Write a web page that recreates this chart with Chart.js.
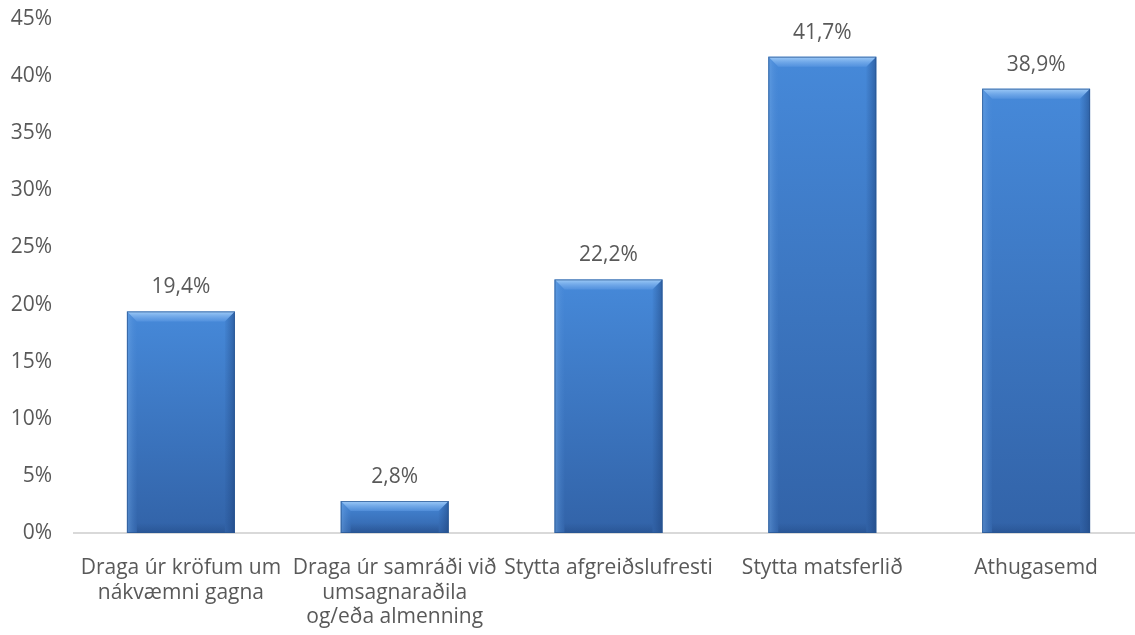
<!DOCTYPE html>
<html>
<head>
<meta charset="utf-8">
<script src="https://cdn.jsdelivr.net/npm/chart.js@4"></script>
<style>
html,body{margin:0;padding:0;background:#fff;overflow:hidden;}
#wrap{width:1143px;height:635px;position:relative;}
</style>
</head>
<body>
<div id="wrap"><canvas id="c"></canvas></div>
<script>
const categories = [
  ["Draga úr kröfum um", "nákvæmni gagna"],
  ["Draga úr samráði við", "umsagnaraðila", "og/eða almenning"],
  ["Stytta afgreiðslufresti"],
  ["Stytta matsferlið"],
  ["Athugasemd"]
];
const values = [19.4, 2.8, 22.2, 41.7, 38.9];
const valueLabels = ["19,4%", "2,8%", "22,2%", "41,7%", "38,9%"];
const yTicks = [0, 5, 10, 15, 20, 25, 30, 35, 40, 45];

const FONT = "'Open Sans', sans-serif";
const FSIZE = 21;
const TEXT = "#595959";

function barGradient(ctx) {
  const chart = ctx.chart;
  const area = chart.chartArea;
  const ys = chart.scales && chart.scales.y;
  if (!area || !ys || ctx.type !== "data") return "#3a78c4";
  const top = ys.getPixelForValue(ctx.raw);
  const base = ys.getPixelForValue(0);
  const g = chart.ctx.createLinearGradient(0, top, 0, base);
  g.addColorStop(0, "#4689d9");
  g.addColorStop(1, "#3263a8");
  return g;
}

const bevelPlugin = {
  id: "bevel",
  afterDatasetsDraw(chart) {
    const ctx = chart.ctx;
    const meta = chart.getDatasetMeta(0);
    meta.data.forEach((bar) => {
      const p = bar.getProps(["x", "y", "base", "width"], true);
      const l = p.x - p.width / 2, r = p.x + p.width / 2, t = p.y, b = p.base;
      const d = Math.min(10, (b - t) / 2);
      ctx.save();
      let g = ctx.createLinearGradient(0, t, 0, t + d);
      g.addColorStop(0, "rgba(165,208,250,0.95)");
      g.addColorStop(1, "rgba(95,155,228,0.55)");
      ctx.fillStyle = g;
      ctx.beginPath();
      ctx.moveTo(l, t); ctx.lineTo(r, t); ctx.lineTo(r - d, t + d); ctx.lineTo(l + d, t + d); ctx.closePath();
      ctx.fill();
      g = ctx.createLinearGradient(l, 0, l + d, 0);
      g.addColorStop(0, "rgba(120,175,235,0.5)");
      g.addColorStop(1, "rgba(80,140,215,0.05)");
      ctx.fillStyle = g;
      ctx.beginPath();
      ctx.moveTo(l, t); ctx.lineTo(l + d, t + d); ctx.lineTo(l + d, b); ctx.lineTo(l, b); ctx.closePath();
      ctx.fill();
      g = ctx.createLinearGradient(r - d, 0, r, 0);
      g.addColorStop(0, "rgba(30,70,130,0.05)");
      g.addColorStop(1, "rgba(25,60,115,0.5)");
      ctx.fillStyle = g;
      ctx.beginPath();
      ctx.moveTo(r, t); ctx.lineTo(r, b); ctx.lineTo(r - d, b); ctx.lineTo(r - d, t + d); ctx.closePath();
      ctx.fill();
      g = ctx.createLinearGradient(0, b - d, 0, b);
      g.addColorStop(0, "rgba(25,60,115,0)");
      g.addColorStop(1, "rgba(25,60,115,0.35)");
      ctx.fillStyle = g;
      ctx.fillRect(l + d, b - d, r - l - 2 * d, d);
      ctx.strokeStyle = "rgba(40,85,145,0.75)";
      ctx.lineWidth = 1;
      ctx.strokeRect(l + 0.5, t + 0.5, r - l - 1, b - t - 1);
      ctx.restore();
    });
  },
  afterDraw(chart) {
    const ctx = chart.ctx;
    const meta = chart.getDatasetMeta(0);
    ctx.save();
    ctx.font = FSIZE + "px " + FONT;
    ctx.fillStyle = TEXT;
    ctx.textAlign = "center";
    ctx.textBaseline = "middle";
    meta.data.forEach((bar, i) => {
      ctx.fillText(valueLabels[i], bar.x, bar.y - 24);
    });
    ctx.restore();
  }
};

new Chart(document.getElementById("c"), {
  type: "bar",
  data: {
    labels: categories,
    datasets: [{
      data: values,
      backgroundColor: barGradient,
      borderWidth: 0,
      barPercentage: 0.505,
      categoryPercentage: 1.0
    }]
  },
  options: {
    responsive: true,
    maintainAspectRatio: false,
    animation: false,
    layout: { padding: { top: 19, right: 0, left: 0, bottom: 0 } },
    plugins: { legend: { display: false }, tooltip: { enabled: false } },
    scales: {
      x: {
        grid: { display: false },
        border: { display: true, color: "#d9d9d9", width: 2 },
        ticks: {
          color: TEXT,
          font: { family: FONT, size: FSIZE, lineHeight: 1.16 },
          maxRotation: 0,
          autoSkip: false,
          padding: 15
        },
        afterFit(s) { s.height = 102; s.paddingLeft = 0; s.paddingRight = 0; }
      },
      y: {
        min: 0,
        max: 45,
        grid: { display: false, drawTicks: false },
        border: { display: false },
        afterBuildTicks(s) { s.ticks = yTicks.map(v => ({ value: v })); },
        ticks: {
          color: TEXT,
          font: { family: FONT, size: FSIZE },
          padding: 22,
          callback: (v) => v + "%"
        },
        afterFit(s) { s.width = 74; s.paddingTop = 0; s.paddingBottom = 0; }
      }
    }
  },
  plugins: [bevelPlugin]
});
</script>
</body>
</html>
